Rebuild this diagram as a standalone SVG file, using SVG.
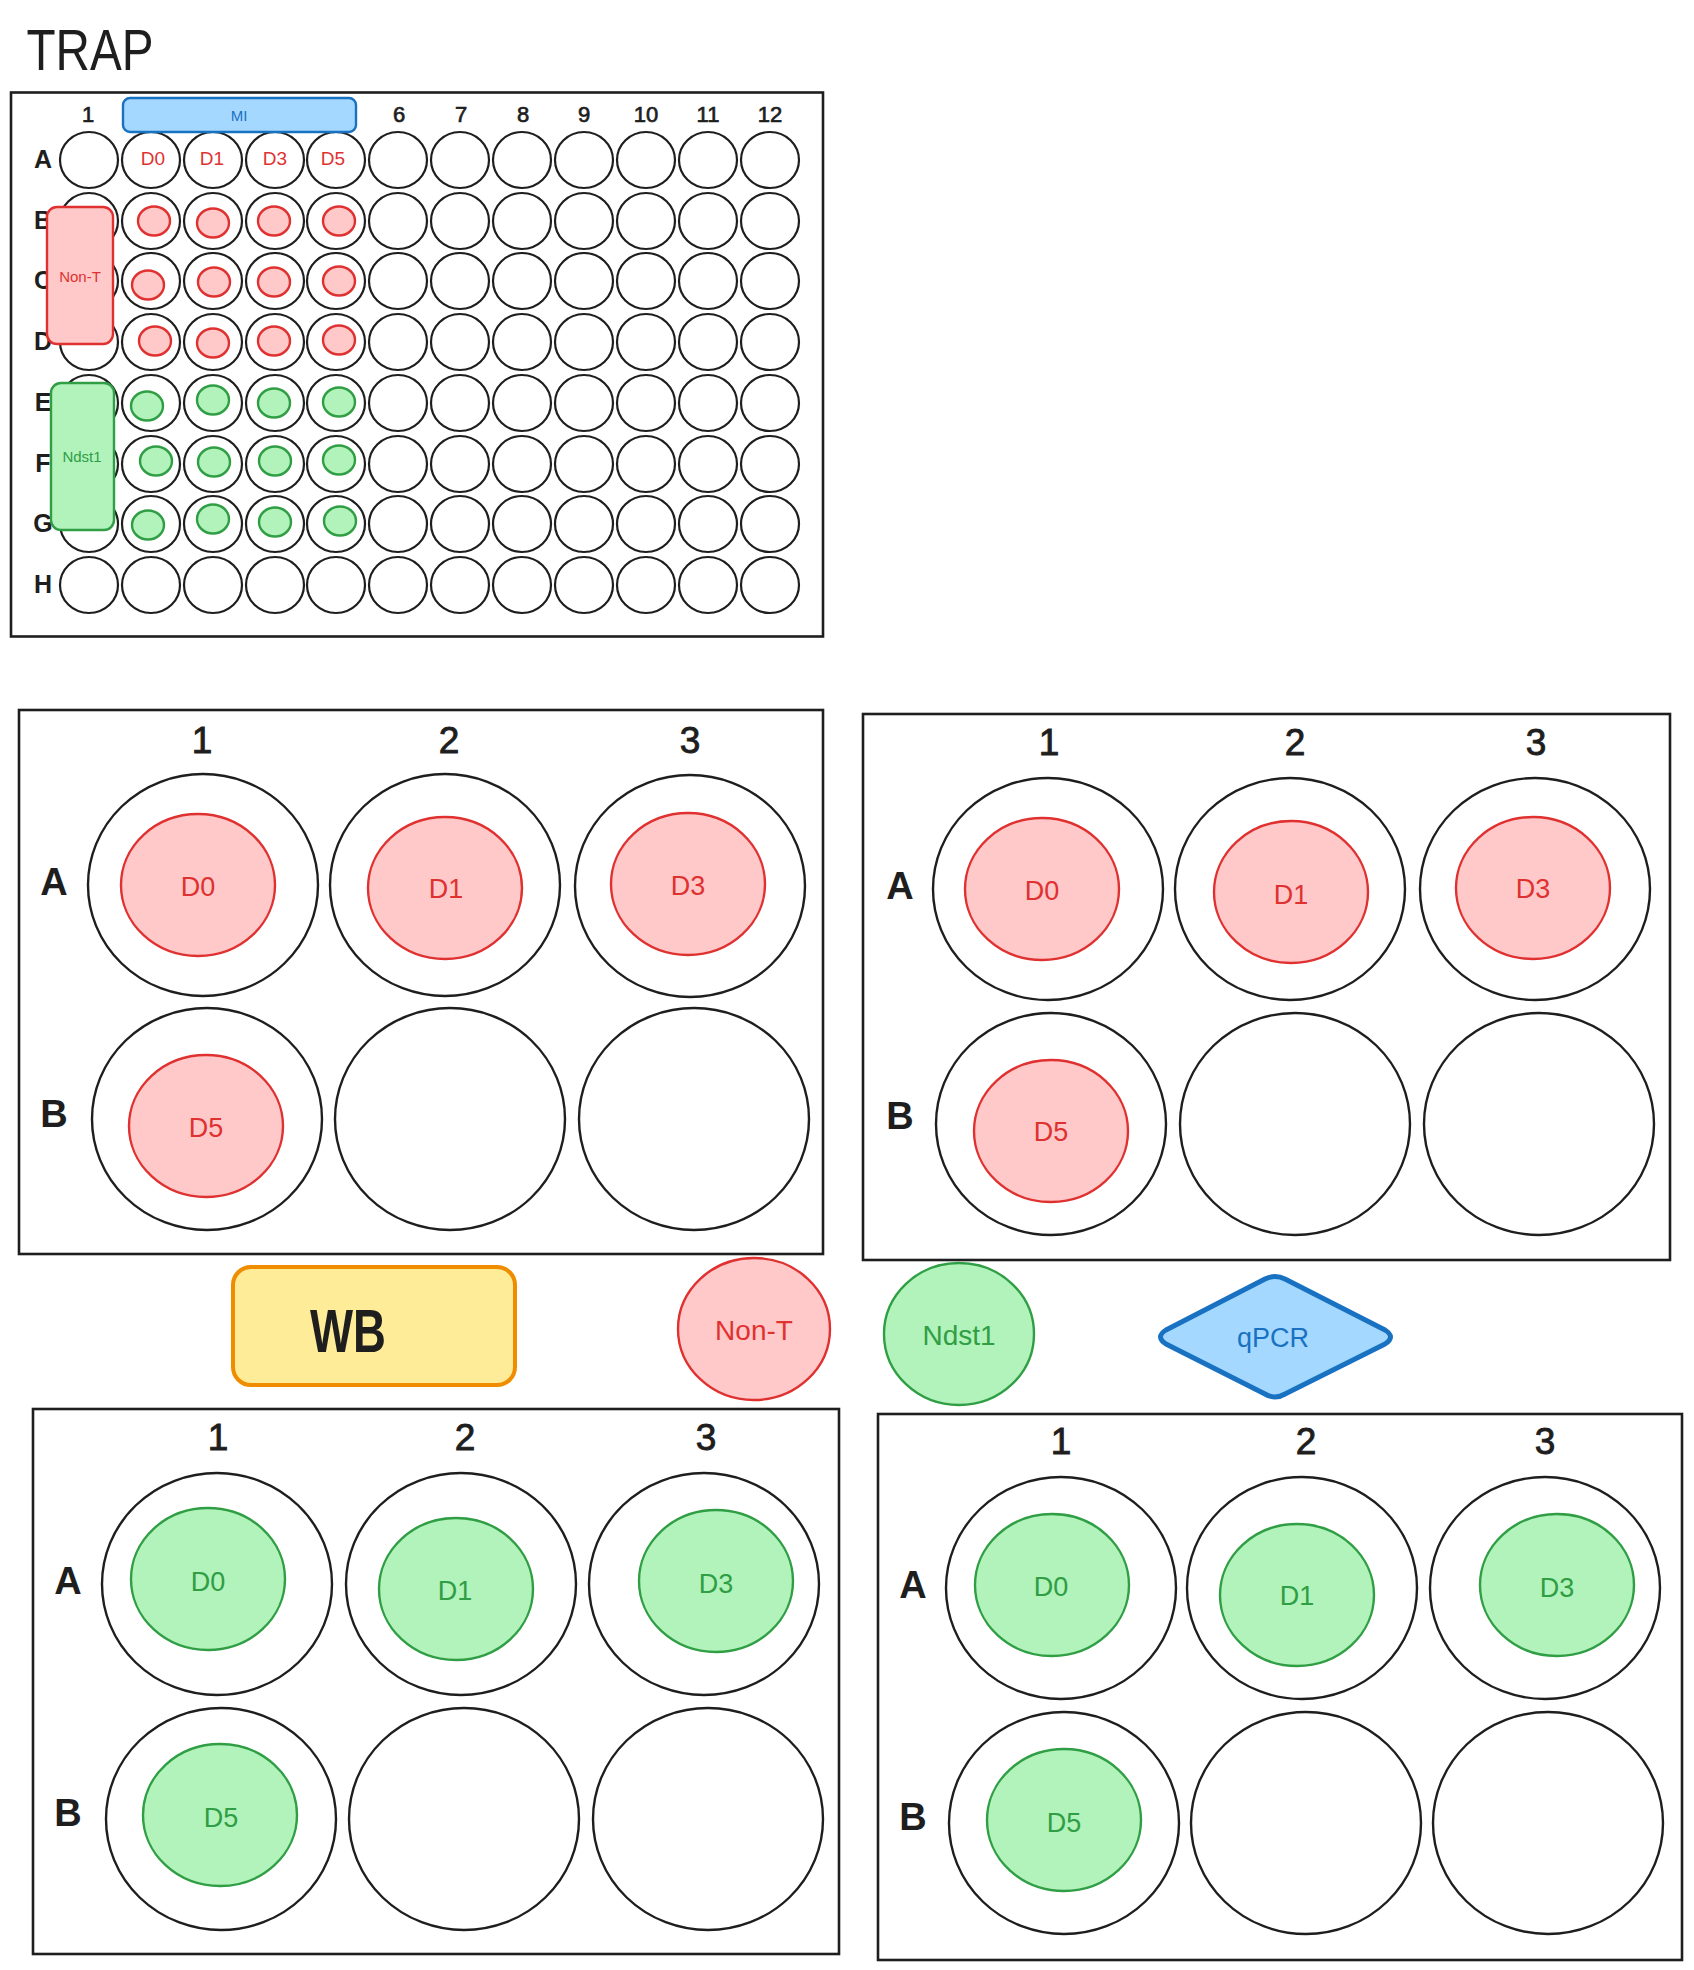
<svg xmlns="http://www.w3.org/2000/svg" width="1694" height="1970" viewBox="0 0 1694 1970">
<style>
  .bg{fill:#ffffff}
  .plate{fill:none;stroke:#1e1e1e;stroke-width:2.6}
  .w96{fill:#ffffff;stroke:#1e1e1e;stroke-width:2.2}
  .w6{fill:#ffffff;stroke:#1e1e1e;stroke-width:2.4}
  .red{fill:#ffc9c9;stroke:#e03131;stroke-width:2.4}
  .green{fill:#b2f2bb;stroke:#2f9e44;stroke-width:2.4}
  .blue{fill:#a5d8ff;stroke:#1971c2;stroke-width:2.4}
  .orange{fill:#ffec99;stroke:#f08c00;stroke-width:4}
  .lbl{font-family:"Liberation Sans",Arial,sans-serif;fill:#1e1e1e;text-anchor:middle}
  .col96{font-size:22px;stroke:#1e1e1e;stroke-width:0.7}
  .row96{font-size:25px;font-weight:bold}
  .col6{font-size:37px;stroke:#1e1e1e;stroke-width:0.9}
  .row6{font-size:38px;font-weight:bold}
  .hand{font-family:"Liberation Sans Narrow","Liberation Sans",Arial,sans-serif;text-anchor:middle}
  .tr{fill:#e03131}
  .tg{fill:#2f9e44}
  .tb{fill:#1971c2}
  .tk{fill:#1e1e1e}
</style>
<defs>
  <g id="row96">
    <ellipse class="w96" cx="89" cy="0" rx="29" ry="28"/>
    <ellipse class="w96" cx="151" cy="0" rx="29" ry="28"/>
    <ellipse class="w96" cx="213" cy="0" rx="29" ry="28"/>
    <ellipse class="w96" cx="275" cy="0" rx="29" ry="28"/>
    <ellipse class="w96" cx="336" cy="0" rx="29" ry="28"/>
    <ellipse class="w96" cx="398" cy="0" rx="29" ry="28"/>
    <ellipse class="w96" cx="460" cy="0" rx="29" ry="28"/>
    <ellipse class="w96" cx="522" cy="0" rx="29" ry="28"/>
    <ellipse class="w96" cx="584" cy="0" rx="29" ry="28"/>
    <ellipse class="w96" cx="646" cy="0" rx="29" ry="28"/>
    <ellipse class="w96" cx="708" cy="0" rx="29" ry="28"/>
    <ellipse class="w96" cx="770" cy="0" rx="29" ry="28"/>
  </g>
</defs>
<rect class="bg" x="0" y="0" width="1694" height="1970"/>

<g id="title">
  <text class="hand tk" x="90" y="70" font-size="58" textLength="127" lengthAdjust="spacingAndGlyphs">TRAP</text>
</g>

<g id="plate96">
  <rect class="plate" x="11" y="92.5" width="812" height="544"/>
  <g id="plate96-collabels">
    <text class="lbl col96" x="88" y="122">1</text>
    <text class="lbl col96" x="399" y="122">6</text>
    <text class="lbl col96" x="461" y="122">7</text>
    <text class="lbl col96" x="523" y="122">8</text>
    <text class="lbl col96" x="584" y="122">9</text>
    <text class="lbl col96" x="646" y="122">10</text>
    <text class="lbl col96" x="708" y="122">11</text>
    <text class="lbl col96" x="770" y="122">12</text>
  </g>
  <g id="plate96-rowlabels">
    <text class="lbl row96" x="43" y="168">A</text>
    <text class="lbl row96" x="43" y="229">B</text>
    <text class="lbl row96" x="43" y="289">C</text>
    <text class="lbl row96" x="43" y="350">D</text>
    <text class="lbl row96" x="43" y="411">E</text>
    <text class="lbl row96" x="43" y="472">F</text>
    <text class="lbl row96" x="43" y="532">G</text>
    <text class="lbl row96" x="43" y="593">H</text>
  </g>
  <g id="plate96-wells">
    <use href="#row96" y="160"/>
    <use href="#row96" y="221"/>
    <use href="#row96" y="281"/>
    <use href="#row96" y="342"/>
    <use href="#row96" y="403"/>
    <use href="#row96" y="464"/>
    <use href="#row96" y="524"/>
    <use href="#row96" y="585"/>
  </g>
  <g id="plate96-day-labels">
    <text class="hand tr" x="153" y="165" font-size="19">D0</text>
    <text class="hand tr" x="212" y="165" font-size="19">D1</text>
    <text class="hand tr" x="275" y="165" font-size="19">D3</text>
    <text class="hand tr" x="333" y="165" font-size="19">D5</text>
  </g>
  <g id="plate96-red-samples">
    <ellipse class="red" cx="154" cy="221" rx="16" ry="14.5"/>
    <ellipse class="red" cx="213" cy="223" rx="16" ry="14.5"/>
    <ellipse class="red" cx="274" cy="221" rx="16" ry="14.5"/>
    <ellipse class="red" cx="339" cy="221" rx="16" ry="14.5"/>
    <ellipse class="red" cx="148" cy="285" rx="16" ry="14.5"/>
    <ellipse class="red" cx="214" cy="282" rx="16" ry="14.5"/>
    <ellipse class="red" cx="274" cy="282" rx="16" ry="14.5"/>
    <ellipse class="red" cx="339" cy="281" rx="16" ry="14.5"/>
    <ellipse class="red" cx="155" cy="341" rx="16" ry="14.5"/>
    <ellipse class="red" cx="213" cy="343" rx="16" ry="14.5"/>
    <ellipse class="red" cx="274" cy="341" rx="16" ry="14.5"/>
    <ellipse class="red" cx="339" cy="340" rx="16" ry="14.5"/>
  </g>
  <g id="plate96-green-samples">
    <ellipse class="green" cx="147" cy="406" rx="16" ry="14.5"/>
    <ellipse class="green" cx="213" cy="400" rx="16" ry="14.5"/>
    <ellipse class="green" cx="274" cy="403" rx="16" ry="14.5"/>
    <ellipse class="green" cx="339" cy="402" rx="16" ry="14.5"/>
    <ellipse class="green" cx="156" cy="461" rx="16" ry="14.5"/>
    <ellipse class="green" cx="214" cy="462" rx="16" ry="14.5"/>
    <ellipse class="green" cx="275" cy="461" rx="16" ry="14.5"/>
    <ellipse class="green" cx="339" cy="460" rx="16" ry="14.5"/>
    <ellipse class="green" cx="148" cy="525" rx="16" ry="14.5"/>
    <ellipse class="green" cx="213" cy="519" rx="16" ry="14.5"/>
    <ellipse class="green" cx="275" cy="522" rx="16" ry="14.5"/>
    <ellipse class="green" cx="340" cy="521" rx="16" ry="14.5"/>
  </g>
  <g id="tag-MI">
    <rect class="blue" x="123" y="98" width="233" height="34" rx="7"/>
    <text class="hand tb" x="239" y="121" font-size="15">MI</text>
  </g>
  <g id="tag-NonT">
    <rect class="red" x="47" y="207" width="66" height="137" rx="10"/>
    <text class="hand tr" x="80" y="282" font-size="15">Non-T</text>
  </g>
  <g id="tag-Ndst1">
    <rect class="green" x="51" y="383" width="63" height="147" rx="10"/>
    <text class="hand tg" x="82" y="462" font-size="15">Ndst1</text>
  </g>
</g>

<!-- Plate 1: red, top-left -->
<g id="plate6-red-1">
  <rect class="plate" x="19" y="710" width="804" height="544"/>
  <text class="lbl col6" x="202" y="753">1</text>
  <text class="lbl col6" x="449" y="753">2</text>
  <text class="lbl col6" x="690" y="753">3</text>
  <text class="lbl row6" x="54" y="895">A</text>
  <text class="lbl row6" x="54" y="1127">B</text>
  <ellipse class="w6" cx="203" cy="885" rx="115" ry="111"/>
  <ellipse class="w6" cx="445" cy="885" rx="115" ry="111"/>
  <ellipse class="w6" cx="690" cy="886" rx="115" ry="111"/>
  <ellipse class="w6" cx="207" cy="1119" rx="115" ry="111"/>
  <ellipse class="w6" cx="450" cy="1119" rx="115" ry="111"/>
  <ellipse class="w6" cx="694" cy="1119" rx="115" ry="111"/>
  <ellipse class="red" cx="198" cy="885" rx="77" ry="71"/>
  <ellipse class="red" cx="445" cy="888" rx="77" ry="71"/>
  <ellipse class="red" cx="688" cy="884" rx="77" ry="71"/>
  <ellipse class="red" cx="206" cy="1126" rx="77" ry="71"/>
  <text class="hand tr" x="198" y="896" font-size="27">D0</text>
  <text class="hand tr" x="446" y="898" font-size="27">D1</text>
  <text class="hand tr" x="688" y="895" font-size="27">D3</text>
  <text class="hand tr" x="206" y="1137" font-size="27">D5</text>
</g>

<!-- Plate 2: red, top-right -->
<g id="plate6-red-2">
  <rect class="plate" x="863" y="714" width="807" height="546"/>
  <text class="lbl col6" x="1049" y="755">1</text>
  <text class="lbl col6" x="1295" y="755">2</text>
  <text class="lbl col6" x="1536" y="755">3</text>
  <text class="lbl row6" x="900" y="899">A</text>
  <text class="lbl row6" x="900" y="1129">B</text>
  <ellipse class="w6" cx="1048" cy="889" rx="115" ry="111"/>
  <ellipse class="w6" cx="1290" cy="889" rx="115" ry="111"/>
  <ellipse class="w6" cx="1535" cy="889" rx="115" ry="111"/>
  <ellipse class="w6" cx="1051" cy="1124" rx="115" ry="111"/>
  <ellipse class="w6" cx="1295" cy="1124" rx="115" ry="111"/>
  <ellipse class="w6" cx="1539" cy="1124" rx="115" ry="111"/>
  <ellipse class="red" cx="1042" cy="889" rx="77" ry="71"/>
  <ellipse class="red" cx="1291" cy="892" rx="77" ry="71"/>
  <ellipse class="red" cx="1533" cy="888" rx="77" ry="71"/>
  <ellipse class="red" cx="1051" cy="1131" rx="77" ry="71"/>
  <text class="hand tr" x="1042" y="900" font-size="27">D0</text>
  <text class="hand tr" x="1291" y="904" font-size="27">D1</text>
  <text class="hand tr" x="1533" y="898" font-size="27">D3</text>
  <text class="hand tr" x="1051" y="1141" font-size="27">D5</text>
</g>

<!-- Legend -->
<g id="legend-WB">
  <rect class="orange" x="233" y="1267" width="282" height="118" rx="18"/>
  <text class="hand tk" x="348" y="1352" font-size="62" font-weight="bold" textLength="76" lengthAdjust="spacingAndGlyphs">WB</text>
</g>
<g id="legend-NonT">
  <ellipse class="red" cx="754" cy="1329" rx="76" ry="71"/>
  <text class="hand tr" x="754" y="1340" font-size="28">Non-T</text>
</g>
<g id="legend-Ndst1">
  <ellipse class="green" cx="959" cy="1334" rx="75" ry="71"/>
  <text class="hand tg" x="959" y="1345" font-size="28">Ndst1</text>
</g>
<g id="legend-qPCR">
  <path d="M1166,1330 L1265,1279 Q1275,1274 1285,1279 L1385,1330 Q1396,1337 1385,1344 L1285,1394 Q1275,1400 1265,1394 L1166,1344 Q1155,1337 1166,1330 Z" fill="#a5d8ff" stroke="#1971c2" stroke-width="5" stroke-linejoin="round"/>
  <text class="hand tb" x="1273" y="1347" font-size="27">qPCR</text>
</g>

<!-- Plate 3: green, bottom-left -->
<g id="plate6-green-1">
  <rect class="plate" x="33" y="1409" width="806" height="545"/>
  <text class="lbl col6" x="218" y="1450">1</text>
  <text class="lbl col6" x="465" y="1450">2</text>
  <text class="lbl col6" x="706" y="1450">3</text>
  <text class="lbl row6" x="68" y="1594">A</text>
  <text class="lbl row6" x="68" y="1826">B</text>
  <ellipse class="w6" cx="217" cy="1584" rx="115" ry="111"/>
  <ellipse class="w6" cx="461" cy="1584" rx="115" ry="111"/>
  <ellipse class="w6" cx="704" cy="1584" rx="115" ry="111"/>
  <ellipse class="w6" cx="221" cy="1819" rx="115" ry="111"/>
  <ellipse class="w6" cx="464" cy="1819" rx="115" ry="111"/>
  <ellipse class="w6" cx="708" cy="1819" rx="115" ry="111"/>
  <ellipse class="green" cx="208" cy="1579" rx="77" ry="71"/>
  <ellipse class="green" cx="456" cy="1589" rx="77" ry="71"/>
  <ellipse class="green" cx="716" cy="1581" rx="77" ry="71"/>
  <ellipse class="green" cx="220" cy="1815" rx="77" ry="71"/>
  <text class="hand tg" x="208" y="1591" font-size="27">D0</text>
  <text class="hand tg" x="455" y="1600" font-size="27">D1</text>
  <text class="hand tg" x="716" y="1593" font-size="27">D3</text>
  <text class="hand tg" x="221" y="1827" font-size="27">D5</text>
</g>

<!-- Plate 4: green, bottom-right -->
<g id="plate6-green-2">
  <rect class="plate" x="878" y="1414" width="804" height="546"/>
  <text class="lbl col6" x="1061" y="1454">1</text>
  <text class="lbl col6" x="1306" y="1454">2</text>
  <text class="lbl col6" x="1545" y="1454">3</text>
  <text class="lbl row6" x="913" y="1598">A</text>
  <text class="lbl row6" x="913" y="1830">B</text>
  <ellipse class="w6" cx="1061" cy="1588" rx="115" ry="111"/>
  <ellipse class="w6" cx="1302" cy="1588" rx="115" ry="111"/>
  <ellipse class="w6" cx="1545" cy="1588" rx="115" ry="111"/>
  <ellipse class="w6" cx="1064" cy="1823" rx="115" ry="111"/>
  <ellipse class="w6" cx="1306" cy="1823" rx="115" ry="111"/>
  <ellipse class="w6" cx="1548" cy="1823" rx="115" ry="111"/>
  <ellipse class="green" cx="1052" cy="1585" rx="77" ry="71"/>
  <ellipse class="green" cx="1297" cy="1595" rx="77" ry="71"/>
  <ellipse class="green" cx="1557" cy="1585" rx="77" ry="71"/>
  <ellipse class="green" cx="1064" cy="1820" rx="77" ry="71"/>
  <text class="hand tg" x="1051" y="1596" font-size="27">D0</text>
  <text class="hand tg" x="1297" y="1605" font-size="27">D1</text>
  <text class="hand tg" x="1557" y="1597" font-size="27">D3</text>
  <text class="hand tg" x="1064" y="1832" font-size="27">D5</text>
</g>

<g id="connectors"></g>
</svg>
